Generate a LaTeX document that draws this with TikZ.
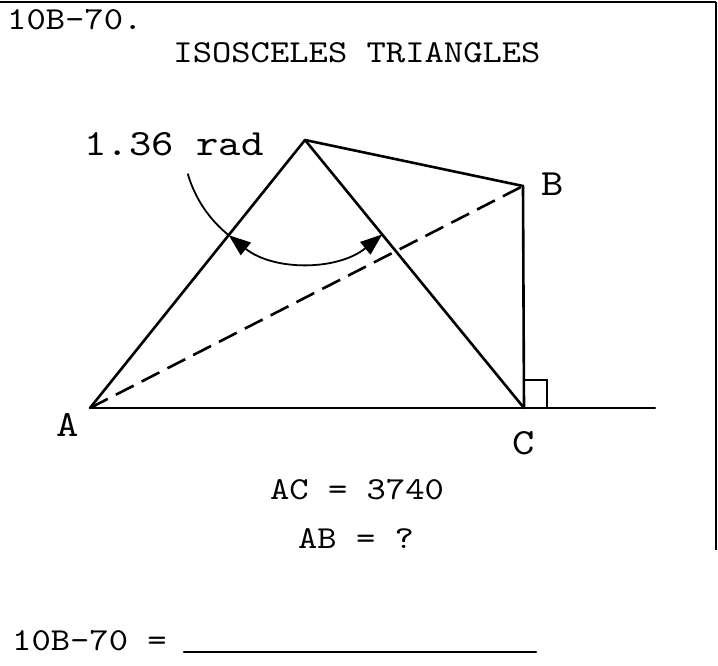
\documentclass[tikz,border=0pt]{standalone}
\usepackage{fontspec}
\usepackage{tikz}
\usetikzlibrary{arrows.meta}
\newfontfamily\typew{lmmono10-regular.otf}[FakeStretch=1.15]

\begin{document}
\begin{tikzpicture}[x=1pt,y=-1pt]
\tikzstyle{vertex}=[shape=coordinate]
\tikzstyle{side}=[draw,line width=2.6pt,line cap=round]
\tikzstyle{hidden}=[draw,line width=2.6pt,dash pattern=on 20pt off 9pt]
\tikzstyle{frame}=[draw,line width=2pt]
\tikzstyle{txt}=[inner sep=0pt,font=\typew\fontsize{32}{38}\selectfont]
\tikzstyle{big}=[inner sep=0pt,font=\typew\fontsize{37}{44}\selectfont]
\useasboundingbox (0,0) rectangle (718,666);

% frame
\node[vertex] (f1) at (0,2) {};
\node[vertex] (f2) at (716,2) {};
\node[vertex] (f3) at (716,550) {};
\path (f1) edge[frame] (f2);
\path (f2) edge[draw,line width=1.5pt] (f3);

% points
\node[vertex] (A) at (90,408) {};
\node[vertex] (C) at (524,408) {};
\node[vertex] (B) at (523,186) {};
\node[vertex] (P) at (305,140) {};
\node[vertex] (E) at (655,408) {};
\node[vertex] (r1) at (547,408) {};
\node[vertex] (r2) at (547,380) {};
\node[vertex] (r3) at (524,380) {};

\path (A) edge[side] (E);
\path (A) edge[side] (P);
\path (P) edge[side] (C);
\path (P) edge[side] (B);
\path (B) edge[side] (C);
\path (A) edge[hidden] (B);
\draw[line width=2.6pt] (r1) -- (r2) -- (r3);

% angle mark
\draw[line width=1.8pt] (P) ++(164:122) arc[start angle=164,end angle=128.7,radius=122];
\draw[line width=1.8pt,{Triangle[length=22pt,width=16pt]}-{Triangle[length=22pt,width=16pt]}]
  (P) ++(128.7:122) arc[start angle=128.7,end angle=50.7,radius=122];

% labels
\node[big] (lA) at (68,425) {A};
\node[big] (lB) at (553,184) {B};
\node[big] (lC) at (524,443) {C};
\node[big,anchor=base] (rad) at (174,156) {1.36 rad};

\node[txt,anchor=base west] (num) at (7,30) {10B-70.};
\node[txt,anchor=base] (title) at (357,63) {ISOSCELES TRIANGLES};
\node[txt,anchor=base] (ac) at (357,499) {AC = 3740};
\node[txt,anchor=base] (ab) at (356,548) {AB = ?};
\node[txt,anchor=base west] (ans) at (12,650) {10B-70 =};
\node[vertex] (u1) at (184,652) {};
\node[vertex] (u2) at (536,652) {};
\path (u1) edge[side] (u2);
\end{tikzpicture}
\end{document}
